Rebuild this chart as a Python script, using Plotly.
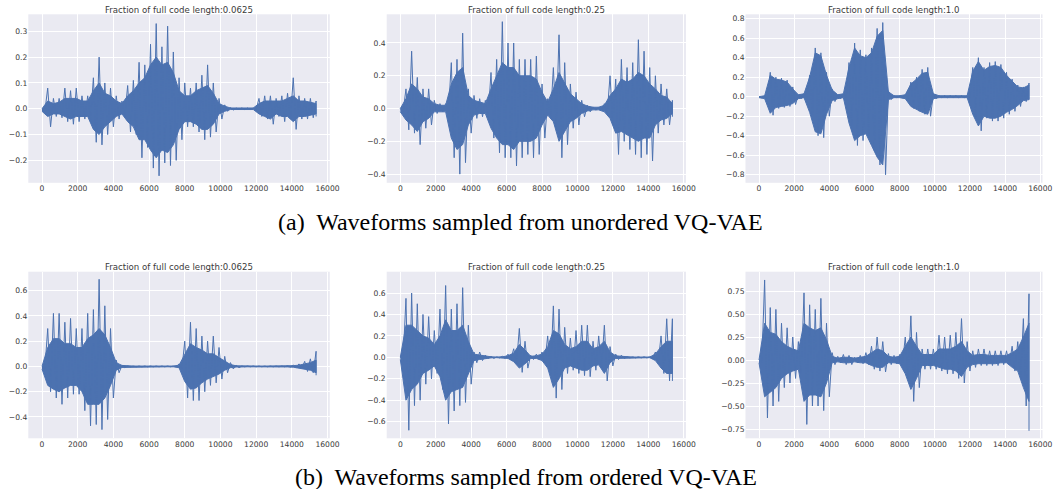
import plotly.graph_objects as go

# ---------------- data ----------------
SAMPLE_STEP = 320  # samples between envelope readings (0 .. 15360)
X_TICKS = [0, 2000, 4000, 6000, 8000, 10000, 12000, 14000, 16000]

TITLES = [
    "Fraction of full code length:0.0625",
    "Fraction of full code length:0.25",
    "Fraction of full code length:1.0",
    "Fraction of full code length:0.0625",
    "Fraction of full code length:0.25",
    "Fraction of full code length:1.0",
]
CAPTIONS = [
    "(a)  Waveforms sampled from unordered VQ-VAE",
    "(b)  Waveforms sampled from ordered VQ-VAE",
]

# Each panel: peak envelope (spikes) and dense-body envelope, one reading every SAMPLE_STEP samples.
# (a) unordered VQ-VAE, fraction 0.0625
A1_PEAK_UP = [0.0, 0.08, 0.04, 0.04, 0.08, 0.07, 0.08, 0.05, 0.05, 0.12, 0.20, 0.10, 0.08, 0.05, 0.03, 0.09,
              0.11, 0.18, 0.17, 0.25, 0.33, 0.24, 0.32, 0.22, 0.12, 0.10, 0.08, 0.10, 0.13, 0.17, 0.10, 0.04,
              0.015, 0.005, 0.003, 0.003, 0.003, 0.003, 0.04, 0.05, 0.05, 0.04, 0.05, 0.06, 0.12, 0.05, 0.04, 0.04, 0.03]
A1_PEAK_LO = [-0.01, -0.07, -0.03, -0.035, -0.05, -0.06, -0.05, -0.04, -0.04, -0.13, -0.14, -0.10, -0.07, -0.04, -0.03, -0.09,
              -0.10, -0.19, -0.15, -0.23, -0.26, -0.21, -0.22, -0.20, -0.12, -0.07, -0.07, -0.09, -0.12, -0.11, -0.09, -0.04,
              -0.01, -0.005, -0.003, -0.003, -0.003, -0.003, -0.03, -0.04, -0.06, -0.03, -0.05, -0.04, -0.08, -0.04, -0.04, -0.035, -0.03]
A1_BODY_UP = [0.0, 0.03, 0.02, 0.025, 0.04, 0.04, 0.04, 0.03, 0.03, 0.07, 0.10, 0.06, 0.05, 0.03, 0.02, 0.05,
              0.07, 0.10, 0.12, 0.17, 0.20, 0.17, 0.18, 0.14, 0.07, 0.05, 0.05, 0.07, 0.08, 0.09, 0.06, 0.02,
              0.01, 0.003, 0.003, 0.003, 0.003, 0.003, 0.02, 0.03, 0.03, 0.03, 0.03, 0.04, 0.05, 0.03, 0.03, 0.025, 0.02]
A1_BODY_LO = [-0.01, -0.03, -0.02, -0.02, -0.03, -0.04, -0.03, -0.03, -0.03, -0.08, -0.10, -0.07, -0.05, -0.03, -0.02, -0.05,
              -0.07, -0.12, -0.12, -0.16, -0.19, -0.16, -0.17, -0.14, -0.08, -0.05, -0.05, -0.06, -0.08, -0.08, -0.06, -0.02,
              -0.01, -0.003, -0.003, -0.003, -0.003, -0.003, -0.02, -0.03, -0.04, -0.02, -0.03, -0.03, -0.05, -0.03, -0.03, -0.025, -0.02]

# (a) unordered VQ-VAE, fraction 0.25
A2_PEAK_UP = [0.0, 0.12, 0.35, 0.19, 0.12, 0.12, 0.05, 0.03, 0.03, 0.28, 0.30, 0.46, 0.12, 0.08, 0.06, 0.05,
              0.22, 0.30, 0.53, 0.40, 0.40, 0.30, 0.30, 0.30, 0.32, 0.15, 0.06, 0.25, 0.45, 0.28, 0.15, 0.10,
              0.05, 0.02, 0.01, 0.01, 0.03, 0.20, 0.18, 0.30, 0.25, 0.28, 0.42, 0.35, 0.25, 0.20, 0.15, 0.12, 0.05]
A2_PEAK_LO = [-0.02, -0.13, -0.15, -0.22, -0.12, -0.10, -0.03, -0.02, -0.02, -0.30, -0.40, -0.33, -0.15, -0.06, -0.05, -0.05,
              -0.18, -0.27, -0.30, -0.30, -0.35, -0.30, -0.28, -0.30, -0.28, -0.18, -0.06, -0.12, -0.30, -0.22, -0.12, -0.10,
              -0.05, -0.02, -0.01, -0.01, -0.03, -0.10, -0.28, -0.20, -0.25, -0.28, -0.30, -0.28, -0.32, -0.15, -0.10, -0.10, -0.05]
A2_BODY_UP = [0.0, 0.06, 0.15, 0.12, 0.07, 0.06, 0.03, 0.02, 0.02, 0.15, 0.22, 0.25, 0.08, 0.05, 0.04, 0.03,
              0.12, 0.20, 0.28, 0.25, 0.25, 0.20, 0.20, 0.20, 0.18, 0.10, 0.04, 0.12, 0.22, 0.15, 0.09, 0.06,
              0.03, 0.015, 0.008, 0.008, 0.02, 0.08, 0.12, 0.18, 0.16, 0.18, 0.22, 0.20, 0.15, 0.12, 0.08, 0.07, 0.03]
A2_BODY_LO = [-0.02, -0.07, -0.10, -0.14, -0.08, -0.06, -0.02, -0.02, -0.02, -0.18, -0.25, -0.22, -0.10, -0.04, -0.03, -0.03,
              -0.12, -0.18, -0.22, -0.22, -0.25, -0.20, -0.20, -0.20, -0.18, -0.10, -0.04, -0.08, -0.20, -0.14, -0.08, -0.06,
              -0.03, -0.015, -0.008, -0.008, -0.02, -0.06, -0.15, -0.14, -0.16, -0.18, -0.20, -0.18, -0.18, -0.10, -0.07, -0.06, -0.03]

# (a) unordered VQ-VAE, fraction 1.0
A3_PEAK_UP = [0.0, 0.01, 0.25, 0.20, 0.19, 0.17, 0.10, 0.02, 0.03, 0.22, 0.50, 0.45, 0.25, 0.08, 0.02, 0.03,
              0.35, 0.55, 0.48, 0.43, 0.50, 0.70, 0.76, 0.06, 0.01, 0.01, 0.02, 0.15, 0.20, 0.28, 0.30, 0.03,
              0.01, 0.01, 0.01, 0.01, 0.01, 0.01, 0.30, 0.40, 0.30, 0.35, 0.36, 0.33, 0.25, 0.18, 0.12, 0.10, 0.14]
A3_PEAK_LO = [-0.01, -0.02, -0.19, -0.12, -0.11, -0.10, -0.08, -0.02, -0.01, -0.18, -0.40, -0.42, -0.20, -0.05, -0.02, -0.01,
              -0.30, -0.50, -0.45, -0.42, -0.55, -0.70, -0.80, -0.03, -0.01, -0.01, -0.02, -0.12, -0.15, -0.18, -0.20, -0.02,
              -0.01, -0.01, -0.01, -0.01, -0.01, -0.01, -0.20, -0.35, -0.22, -0.25, -0.25, -0.22, -0.18, -0.15, -0.10, -0.05, -0.03]
A3_BODY_UP = [0.0, 0.01, 0.22, 0.18, 0.17, 0.15, 0.08, 0.02, 0.03, 0.20, 0.45, 0.42, 0.22, 0.07, 0.02, 0.03,
              0.30, 0.50, 0.42, 0.40, 0.45, 0.62, 0.68, 0.05, 0.01, 0.01, 0.02, 0.13, 0.18, 0.24, 0.25, 0.03,
              0.01, 0.01, 0.01, 0.01, 0.01, 0.01, 0.26, 0.36, 0.27, 0.31, 0.32, 0.30, 0.22, 0.16, 0.10, 0.09, 0.12]
A3_BODY_LO = [-0.01, -0.02, -0.17, -0.11, -0.10, -0.09, -0.07, -0.02, -0.01, -0.16, -0.36, -0.38, -0.18, -0.04, -0.02, -0.01,
              -0.27, -0.45, -0.40, -0.38, -0.50, -0.62, -0.70, -0.03, -0.01, -0.01, -0.02, -0.10, -0.13, -0.16, -0.18, -0.02,
              -0.01, -0.01, -0.01, -0.01, -0.01, -0.01, -0.18, -0.30, -0.20, -0.22, -0.22, -0.20, -0.16, -0.13, -0.09, -0.04, -0.03]

# (b) ordered VQ-VAE, fraction 0.0625
B1_PEAK_UP = [0.0, 0.30, 0.42, 0.42, 0.35, 0.38, 0.30, 0.30, 0.42, 0.45, 0.69, 0.48, 0.30, 0.05, 0.01, 0.003,
              0.003, 0.003, 0.003, 0.003, 0.003, 0.003, 0.003, 0.003, 0.02, 0.20, 0.35, 0.30, 0.24, 0.20, 0.24, 0.15,
              0.08, 0.03, 0.01, 0.003, 0.003, 0.003, 0.003, 0.003, 0.003, 0.003, 0.003, 0.005, 0.01, 0.02, 0.04, 0.06, 0.12]
B1_PEAK_LO = [-0.02, -0.20, -0.25, -0.30, -0.25, -0.22, -0.22, -0.35, -0.47, -0.46, -0.50, -0.42, -0.25, -0.05, -0.01, -0.003,
              -0.003, -0.003, -0.003, -0.003, -0.003, -0.003, -0.003, -0.003, -0.02, -0.25, -0.27, -0.27, -0.20, -0.15, -0.13, -0.10,
              -0.05, -0.02, -0.01, -0.003, -0.003, -0.003, -0.003, -0.003, -0.003, -0.003, -0.003, -0.005, -0.01, -0.015, -0.04, -0.05, -0.07]
B1_BODY_UP = [0.0, 0.15, 0.22, 0.22, 0.18, 0.18, 0.15, 0.15, 0.22, 0.25, 0.30, 0.25, 0.15, 0.03, 0.008, 0.003,
              0.003, 0.003, 0.003, 0.003, 0.003, 0.003, 0.003, 0.003, 0.01, 0.10, 0.18, 0.15, 0.13, 0.10, 0.10, 0.07,
              0.04, 0.015, 0.005, 0.003, 0.003, 0.003, 0.003, 0.003, 0.003, 0.003, 0.003, 0.004, 0.006, 0.01, 0.02, 0.03, 0.05]
B1_BODY_LO = [-0.02, -0.15, -0.18, -0.20, -0.17, -0.15, -0.15, -0.20, -0.30, -0.30, -0.30, -0.25, -0.15, -0.03, -0.008, -0.003,
              -0.003, -0.003, -0.003, -0.003, -0.003, -0.003, -0.003, -0.003, -0.01, -0.12, -0.18, -0.17, -0.13, -0.10, -0.08, -0.06,
              -0.03, -0.01, -0.005, -0.003, -0.003, -0.003, -0.003, -0.003, -0.003, -0.003, -0.003, -0.004, -0.006, -0.01, -0.02, -0.03, -0.05]

# (b) ordered VQ-VAE, fraction 0.25
B2_PEAK_UP = [0.0, 0.55, 0.60, 0.50, 0.40, 0.38, 0.25, 0.45, 0.67, 0.45, 0.50, 0.65, 0.30, 0.05, 0.05, 0.02,
              0.01, 0.005, 0.01, 0.03, 0.08, 0.27, 0.15, 0.02, 0.03, 0.05, 0.20, 0.48, 0.45, 0.28, 0.18, 0.25,
              0.30, 0.30, 0.15, 0.20, 0.30, 0.10, 0.03, 0.02, 0.005, 0.005, 0.005, 0.005, 0.005, 0.05, 0.20, 0.36, 0.36]
B2_PEAK_LO = [-0.02, -0.68, -0.45, -0.40, -0.25, -0.20, -0.15, -0.30, -0.62, -0.50, -0.45, -0.42, -0.25, -0.05, -0.03, -0.01,
              -0.01, -0.005, -0.01, -0.02, -0.06, -0.14, -0.10, -0.02, -0.02, -0.05, -0.15, -0.38, -0.30, -0.15, -0.12, -0.15,
              -0.17, -0.18, -0.12, -0.10, -0.22, -0.08, -0.02, -0.01, -0.005, -0.005, -0.005, -0.005, -0.005, -0.05, -0.15, -0.22, -0.22]
B2_BODY_UP = [0.0, 0.30, 0.30, 0.25, 0.20, 0.18, 0.12, 0.20, 0.35, 0.25, 0.25, 0.30, 0.15, 0.03, 0.02, 0.01,
              0.005, 0.003, 0.005, 0.015, 0.04, 0.12, 0.07, 0.01, 0.015, 0.03, 0.10, 0.25, 0.22, 0.12, 0.08, 0.10,
              0.15, 0.15, 0.08, 0.10, 0.15, 0.05, 0.015, 0.01, 0.003, 0.003, 0.003, 0.003, 0.003, 0.03, 0.10, 0.15, 0.15]
B2_BODY_LO = [-0.02, -0.40, -0.30, -0.25, -0.15, -0.12, -0.08, -0.18, -0.40, -0.32, -0.30, -0.28, -0.15, -0.03, -0.02, -0.01,
              -0.005, -0.003, -0.005, -0.01, -0.04, -0.10, -0.06, -0.01, -0.01, -0.03, -0.10, -0.28, -0.20, -0.10, -0.08, -0.10,
              -0.12, -0.12, -0.08, -0.07, -0.15, -0.05, -0.01, -0.005, -0.003, -0.003, -0.003, -0.003, -0.003, -0.03, -0.10, -0.15, -0.15]

# (b) ordered VQ-VAE, fraction 1.0
B3_PEAK_UP = [0.0, 0.87, 0.57, 0.55, 0.40, 0.35, 0.25, 0.20, 0.73, 0.60, 0.55, 0.67, 0.40, 0.08, 0.04, 0.06,
              0.05, 0.03, 0.05, 0.08, 0.15, 0.25, 0.20, 0.07, 0.05, 0.06, 0.25, 0.48, 0.30, 0.12, 0.12, 0.12,
              0.27, 0.25, 0.27, 0.30, 0.45, 0.20, 0.10, 0.12, 0.12, 0.10, 0.10, 0.10, 0.10, 0.15, 0.20, 0.45, 0.72]
B3_PEAK_LO = [-0.03, -0.63, -0.50, -0.45, -0.30, -0.25, -0.20, -0.15, -0.70, -0.50, -0.50, -0.55, -0.40, -0.05, -0.03, -0.05,
              -0.05, -0.03, -0.04, -0.05, -0.10, -0.12, -0.13, -0.05, -0.04, -0.05, -0.20, -0.45, -0.30, -0.10, -0.10, -0.10,
              -0.12, -0.15, -0.15, -0.20, -0.25, -0.12, -0.08, -0.06, -0.06, -0.06, -0.06, -0.05, -0.05, -0.12, -0.20, -0.50, -0.77]
B3_BODY_UP = [0.0, 0.40, 0.30, 0.28, 0.20, 0.15, 0.12, 0.10, 0.40, 0.35, 0.32, 0.35, 0.22, 0.04, 0.02, 0.03,
              0.03, 0.02, 0.03, 0.04, 0.08, 0.12, 0.10, 0.04, 0.03, 0.04, 0.15, 0.25, 0.15, 0.06, 0.06, 0.06,
              0.12, 0.12, 0.12, 0.15, 0.20, 0.10, 0.05, 0.06, 0.06, 0.05, 0.05, 0.05, 0.05, 0.08, 0.12, 0.25, 0.40]
B3_BODY_LO = [-0.03, -0.40, -0.35, -0.30, -0.20, -0.15, -0.12, -0.10, -0.45, -0.38, -0.38, -0.40, -0.25, -0.03, -0.02, -0.03,
              -0.03, -0.02, -0.03, -0.03, -0.06, -0.08, -0.08, -0.03, -0.03, -0.04, -0.15, -0.32, -0.20, -0.06, -0.06, -0.06,
              -0.08, -0.10, -0.10, -0.12, -0.18, -0.08, -0.05, -0.04, -0.04, -0.04, -0.04, -0.03, -0.03, -0.08, -0.12, -0.30, -0.45]

# ---------------- styling / layout ----------------
LINE_COLOR = "#4C72B0"
BG = "#EAEAF2"
TXT = "#3a3a3a"
W, H = 1053, 489

X_DOMAINS = [(28.3, 329.8), (386.7, 686.0), (745.5, 1042.5)]
Y_DOMAINS = [(14.3, 182.8), (271.7, 438.3)]
TITLE_Y = [9.8, 267.3]
Y_RANGES = [(-0.287, 0.366), (-0.453, 0.575), (-0.883, 0.845),
            (-0.569, 0.750), (-0.755, 0.799), (-0.851, 0.960)]
Y_DTICK = [0.1, 0.2, 0.2, 0.2, 0.2, 0.25]
Y_FMT = [".1f", ".1f", ".1f", ".1f", ".1f", ".2f"]

panels = [(A1_PEAK_UP, A1_PEAK_LO, A1_BODY_UP, A1_BODY_LO),
          (A2_PEAK_UP, A2_PEAK_LO, A2_BODY_UP, A2_BODY_LO),
          (A3_PEAK_UP, A3_PEAK_LO, A3_BODY_UP, A3_BODY_LO),
          (B1_PEAK_UP, B1_PEAK_LO, B1_BODY_UP, B1_BODY_LO),
          (B2_PEAK_UP, B2_PEAK_LO, B2_BODY_UP, B2_BODY_LO),
          (B3_PEAK_UP, B3_PEAK_LO, B3_BODY_UP, B3_BODY_LO)]

fig = go.Figure()
annotations = []
for i, (pu, pl, bu, bl) in enumerate(panels):
    n = len(pu)
    pos = [k * SAMPLE_STEP for k in range(n)]
    ax = "" if i == 0 else str(i + 1)
    # dense body of the waveform: filled band between the body envelopes
    fig.add_trace(go.Scatter(x=pos + pos[::-1], y=list(bu) + list(bl)[::-1], mode="lines",
                             fill="toself", fillcolor=LINE_COLOR,
                             line=dict(color=LINE_COLOR, width=1),
                             xaxis="x" + ax, yaxis="y" + ax, showlegend=False,
                             hoverinfo="skip"))
    # oscillation reaching the peak readings
    xs, ys = [], []
    for k in range(n):
        xs.append(pos[k])
        ys.append(pu[k])
        xs.append(pos[k] + (SAMPLE_STEP / 2 if k < n - 1 else 0))
        ys.append(pl[k])
    fig.add_trace(go.Scatter(x=xs, y=ys, mode="lines",
                             line=dict(color=LINE_COLOR, width=1),
                             xaxis="x" + ax, yaxis="y" + ax, showlegend=False,
                             hoverinfo="skip"))
    col, row = i % 3, i // 3
    xd = X_DOMAINS[col]
    yd = Y_DOMAINS[row]
    xdom = [xd[0] / W, xd[1] / W]
    ydom = [1 - yd[1] / H, 1 - yd[0] / H]
    fig.layout["xaxis" + ax] = dict(
        domain=xdom, anchor="y" + ax, range=[-768, 16128], automargin=False,
        tickvals=X_TICKS, tickformat="d", showgrid=True, gridcolor="white", gridwidth=1,
        zeroline=False, showline=False, ticks="", ticklen=0,
        tickfont=dict(family="DejaVu Sans", size=7.6, color=TXT))
    fig.layout["yaxis" + ax] = dict(
        domain=ydom, anchor="x" + ax, range=list(Y_RANGES[i]), automargin=False,
        dtick=Y_DTICK[i], tick0=0, tickformat=Y_FMT[i], showgrid=True, gridcolor="white", gridwidth=1,
        zeroline=False, showline=False, ticks="", ticklen=0,
        tickfont=dict(family="DejaVu Sans", size=7.6, color=TXT))
    annotations.append(dict(
        text=TITLES[i], x=(xdom[0] + xdom[1]) / 2, y=1 - TITLE_Y[row] / H,
        xref="paper", yref="paper", xanchor="center", yanchor="middle", showarrow=False,
        font=dict(family="DejaVu Sans", size=8.6, color=TXT)))

annotations.append(dict(text=CAPTIONS[0], x=520 / W, y=1 - 222 / H, xref="paper", yref="paper",
                        xanchor="center", yanchor="middle", showarrow=False,
                        font=dict(family="Liberation Serif", size=24, color="black")))
annotations.append(dict(text=CAPTIONS[1], x=526 / W, y=1 - 477 / H, xref="paper", yref="paper",
                        xanchor="center", yanchor="middle", showarrow=False,
                        font=dict(family="Liberation Serif", size=24, color="black")))

fig.update_layout(width=W, height=H, margin=dict(l=0, r=0, t=0, b=0),
                  paper_bgcolor="white", plot_bgcolor=BG, annotations=annotations)

fig.write_html("out.html", config={"displayModeBar": False},
               post_script="document.body.style.margin='0';document.body.style.overflow='hidden';")
